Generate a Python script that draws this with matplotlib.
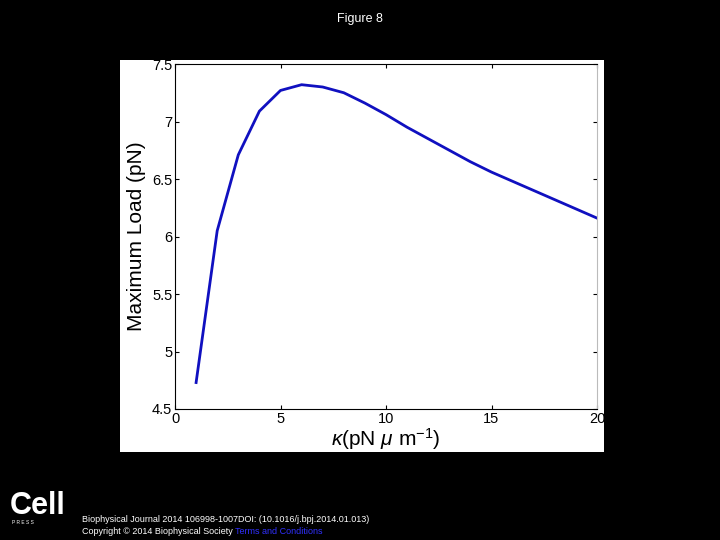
import matplotlib
matplotlib.use("Agg")
import matplotlib.pyplot as plt

plt.rcParams['font.family'] = ['Liberation Sans', 'DejaVu Sans']
plt.rcParams['mathtext.fontset'] = 'custom'
plt.rcParams['mathtext.rm'] = 'Liberation Sans'
plt.rcParams['mathtext.it'] = 'Liberation Sans:italic'

kappa = [1, 2, 3, 4, 5, 6, 7, 8, 9, 10, 11, 12, 13, 14, 15, 16, 17, 18, 19, 20]
load = [4.73, 6.05, 6.71, 7.09, 7.27, 7.32, 7.30, 7.25, 7.16, 7.06, 6.95, 6.85, 6.75, 6.65, 6.56, 6.48, 6.40, 6.32, 6.24, 6.16]

W, H = 720, 540
fig = plt.figure(figsize=(7.2, 5.4), dpi=100, facecolor="black")
bg = fig.add_axes([120/W, 1-452/H, (604-120)/W, (452-60)/H], zorder=0)
bg.set_axis_off()
bg.add_patch(plt.Rectangle((0, 0), 1, 1, transform=bg.transAxes, facecolor="white"))
ax = fig.add_axes([175/W, 1-409/H, (597-175)/W, (409-64)/H], zorder=1)
ax.plot(kappa, load, color="#1010c0", lw=2)
ax.set_xlim(0, 20)
ax.set_ylim(4.5, 7.5)
ax.set_xticks([0, 5, 10, 15, 20])
ax.set_yticks([4.5, 5, 5.5, 6, 6.5, 7, 7.5])
ax.set_yticklabels(["4.5", "5", "5.5", "6", "6.5", "7", "7.5"])
ax.tick_params(labelsize=10.5, direction="in", top=True, right=True, length=3, pad=2)
for s in ax.spines.values():
    s.set_color("#bbbbbb")
ax.spines["bottom"].set_color("black")
ax.spines["top"].set_color("black")
ax.spines["left"].set_color("black")
ax.set_xlabel(r"$\kappa$(pN $\mu$ m$^{-1}$)", fontsize=15, labelpad=0)
ax.set_ylabel("Maximum Load (pN)", fontsize=15, labelpad=4)

fig.text(0.5, 1-19/H, "Figure 8", color="white", ha="center", va="center", fontsize=9)
fig.text(10/W, 1-506/H, "Cell", color="white", fontsize=22, fontweight="bold", va="center")
fig.text(12/W, 1-523/H, "P R E S S", color="white", fontsize=3.5, va="center")
fig.text(82/W, 1-519/H, "Biophysical Journal 2014 106998-1007DOI: (10.1016/j.bpj.2014.01.013)",
         color="white", fontsize=6.5, va="center")
fig.text(82/W, 1-532/H, "Copyright © 2014 Biophysical Society", color="white", fontsize=6.5, va="center")
fig.text(235/W, 1-532/H, "Terms and Conditions", color="#3030ff", fontsize=6.5, va="center")
fig.savefig("out.png", dpi=100, facecolor="black")
